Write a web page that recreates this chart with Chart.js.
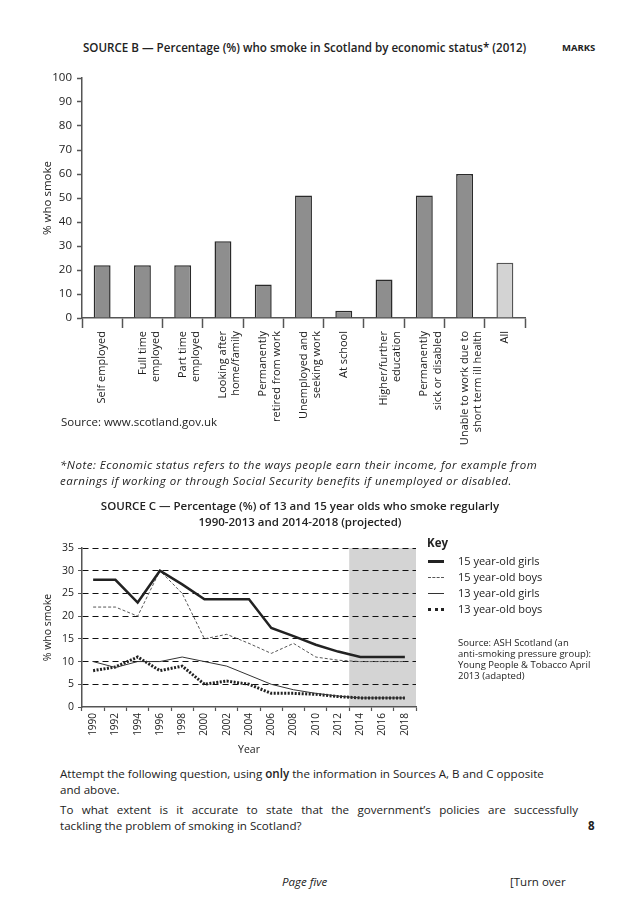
<!DOCTYPE html>
<html>
<head>
<meta charset="utf-8">
<script src="https://cdn.jsdelivr.net/npm/chart.js@4.4.0/dist/chart.umd.min.js"></script>
<style>
  html, body { margin: 0; padding: 0; background: #fff; }
  #page { position: relative; width: 638px; height: 903px; overflow: hidden; font-family: 'Open Sans', sans-serif; color: #222; }
  .t { position: absolute; white-space: nowrap; line-height: 16px; font-size: 11.5px; }
  canvas { position: absolute; }
  .key-row { position: absolute; left: 428px; height: 16px; font-size: 11px; line-height: 16px; }
  .key-row span.s { position: absolute; left: 0; top: 8px; width: 16px; }
  .key-row span.l { position: absolute; left: 30px; top: 0; white-space: nowrap; }
</style>
</head>
<body>
<div id="page">
  <div class="t" style="left:83px; top:40px; font-weight:600; font-size:11.6px;">SOURCE B — Percentage (%) who smoke in Scotland by economic status* (2012)</div>
  <div class="t" style="left:562px; top:40px; font-weight:700; font-size:9.5px;">MARKS</div>

  <canvas id="chartB" width="545" height="420" style="left:0; top:60px;"></canvas>

  <div class="t" style="left:61px; top:414px;">Source: www.scotland.gov.uk</div>
  <div class="t" style="left:60px; top:457px; font-style:italic; letter-spacing:0.5px;">*Note: Economic status refers to the ways people earn their income, for example from<br>earnings if working or through Social Security benefits if unemployed or disabled.</div>

  <div class="t" style="left:0; width:600px; top:498px; text-align:center; font-weight:600;">SOURCE C — Percentage (%) of 13 and 15 year olds who smoke regularly<br>1990-2013 and 2014-2018 (projected)</div>

  <canvas id="chartC" width="430" height="235" style="left:0; top:530px;"></canvas>

  <div class="t" style="left:427px; top:535px; font-weight:700;">Key</div>
  <div id="key"></div>
  <div class="t" style="left:458px; top:637px; font-size:9.5px; line-height:11px;">Source: ASH Scotland (an<br>anti-smoking pressure group):<br>Young People &amp; Tobacco April<br>2013 (adapted)</div>

  <div class="t" style="left:60px; top:766px; font-size:11.6px;">Attempt the following question, using <span style="font-weight:600;">only</span> the information in Sources A, B and C opposite<br>and above.</div>
  <div class="t" style="left:60px; top:802px; width:518px; font-size:11.6px; text-align:justify; text-align-last:justify;">To what extent is it accurate to state that the government’s policies are successfully</div>
  <div class="t" style="left:60px; top:818px; font-size:11.6px;">tackling the problem of smoking in Scotland?</div>
  <div class="t" style="left:588px; top:818px; font-weight:700;">8</div>

  <div class="t" style="left:282px; top:874px; font-style:italic;">Page five</div>
  <div class="t" style="left:510px; top:874px;">[Turn over</div>
</div>

<script>
// Source B: % who smoke by economic status (2012)
const economicStatus = [
  ['Self employed'],
  ['Full time', 'employed'],
  ['Part time', 'employed'],
  ['Looking after', 'home/family'],
  ['Permanently', 'retired from work'],
  ['Unemployed and', 'seeking work'],
  ['At school'],
  ['Higher/further', 'education'],
  ['Permanently', 'sick or disabled'],
  ['Unable to work due to', 'short term ill health'],
  ['All']
];
const smokePct2012 = [22, 22, 22, 32, 14, 51, 3, 16, 51, 60, 23];

// Source C: 13 and 15 year olds who smoke regularly
const years = ['1990', '1992', '1994', '1996', '1998', '2000', '2002', '2004',
  '2006', '2008', '2010', '2012', '2014', '2016', '2018'];
const projectedFrom = '2014';
const girls15 = [28, 28, 23, 30, 27, 23.7, 23.7, 23.7, 17.4, 15.6, 13.7, 12.2, 11, 11, 11];
const boys15 = [22, 22, 20, 30, 25, 15, 16, 14, 11.8, 14, 11, 10.3, 10, 10, 10];
const girls13 = [10, 8.7, 10, 10, 11, 10, 9, 7, 5, 3.8, 3, 2.4, 2, 2, 2];
const boys13 = [8, 8.8, 11, 8, 9, 5, 5.7, 5, 3, 3, 2.8, 2.3, 2, 2, 2];

Chart.defaults.font.family = "'Open Sans', sans-serif";
Chart.defaults.color = '#222';
Chart.defaults.animation = false;

const axisGrey = '#555';

// ---- bar chart (Source B)
new Chart(document.getElementById('chartB'), {
  type: 'bar',
  data: {
    labels: economicStatus,
    datasets: [{
      data: smokePct2012,
      backgroundColor: smokePct2012.map((v, i) => i === smokePct2012.length - 1 ? '#d3d3d3' : '#8e8e8e'),
      borderColor: smokePct2012.map((v, i) => i === smokePct2012.length - 1 ? '#555' : '#2a2a2a'),
      borderWidth: 1.5,
      borderSkipped: 'bottom',
      categoryPercentage: 1,
      barPercentage: 0.42
    }]
  },
  options: {
    responsive: false,
    layout: { padding: { top: 18, right: 20, left: 0, bottom: 35 } },
    plugins: { legend: { display: false }, tooltip: { enabled: false } },
    scales: {
      x: {
        grid: { offset: true, drawOnChartArea: false, drawTicks: true, tickLength: 10, color: axisGrey, tickWidth: 1.5 },
        border: { color: axisGrey, width: 1.5 },
        ticks: { maxRotation: 90, minRotation: 90, autoSkip: false, padding: 3, font: { size: 11 } },
        afterFit(scale) { scale.height = 127; }
      },
      y: {
        min: 0,
        max: 100,
        ticks: { stepSize: 10, padding: 5, font: { size: 11.5 } },
        grid: { drawOnChartArea: false, drawTicks: true, tickLength: 5, color: axisGrey, tickWidth: 1.5 },
        border: { color: axisGrey, width: 1.5 },
        title: { display: true, text: '% who smoke', font: { size: 11.5 }, padding: { top: 41, bottom: 0 } },
        afterFit(scale) { scale.width = 82; }
      }
    }
  }
});

// shade the projected years
const projectionShade = {
  id: 'projectionShade',
  beforeDraw(chart) {
    const { ctx, chartArea, scales } = chart;
    const i = years.indexOf(projectedFrom);
    const x0 = (scales.x.getPixelForValue(i - 1) + scales.x.getPixelForValue(i)) / 2;
    ctx.save();
    ctx.fillStyle = '#d4d4d4';
    ctx.fillRect(x0, chartArea.top, chartArea.right - x0, chartArea.bottom - chartArea.top);
    ctx.restore();
  }
};

const lineStyles = [
  { label: '15 year-old girls', data: girls15, borderColor: '#222', borderWidth: 2.5, borderDash: [] },
  { label: '15 year-old boys', data: boys15, borderColor: '#555', borderWidth: 1, borderDash: [3, 2] },
  { label: '13 year-old girls', data: girls13, borderColor: '#333', borderWidth: 1, borderDash: [] },
  { label: '13 year-old boys', data: boys13, borderColor: '#222', borderWidth: 3, borderDash: [2, 1.5] }
];

// ---- line chart (Source C)
new Chart(document.getElementById('chartC'), {
  type: 'line',
  data: {
    labels: years,
    datasets: lineStyles.map(s => Object.assign({ pointRadius: 0, tension: 0, fill: false, borderCapStyle: 'butt' }, s))
  },
  options: {
    responsive: false,
    layout: { padding: { top: 18, right: 14, left: 0, bottom: 0 } },
    plugins: { legend: { display: false }, tooltip: { enabled: false } },
    scales: {
      x: {
        offset: true,
        grid: { offset: true, drawOnChartArea: false, drawTicks: true, tickLength: 4, color: axisGrey, tickWidth: 1.2 },
        border: { color: axisGrey, width: 1.5 },
        ticks: { maxRotation: 90, minRotation: 90, autoSkip: false, padding: 2, font: { size: 10 } },
        title: { display: true, text: 'Year', font: { size: 10.5 }, padding: { top: 0, bottom: 9 } },
        afterFit(scale) { scale.height = 58; }
      },
      y: {
        min: 0,
        max: 35,
        ticks: { stepSize: 5, padding: 4, font: { size: 10.5 } },
        grid: { drawOnChartArea: true, drawTicks: true, tickLength: 4, color: ctx => ctx.tick && ctx.tick.value === 0 ? 'rgba(0,0,0,0)' : '#111', lineWidth: 1, tickColor: axisGrey, tickBorderDash: [] },
        border: { color: axisGrey, width: 1.5, dash: [6, 4] },
        title: { display: true, text: '% who smoke', font: { size: 10.5 }, padding: { top: 42, bottom: 0 } },
        afterFit(scale) { scale.width = 82; }
      }
    }
  },
  plugins: [projectionShade]
});

// key, built from the same line styles
const keyEl = document.getElementById('key');
const keyTops = [553, 569, 585, 601];
lineStyles.forEach((s, i) => {
  const row = document.createElement('div');
  row.className = 'key-row';
  row.style.top = keyTops[i] + 'px';
  const sw = document.createElement('span');
  sw.className = 's';
  const bw = s.borderWidth >= 2 ? 3 : 1;
  const style = s.borderDash.length ? (bw > 1 ? 'dotted' : 'dashed') : 'solid';
  sw.style.borderTop = bw + 'px ' + style + ' ' + s.borderColor;
  sw.style.marginTop = (-bw / 2) + 'px';
  const lb = document.createElement('span');
  lb.className = 'l';
  lb.textContent = s.label;
  row.appendChild(sw);
  row.appendChild(lb);
  keyEl.appendChild(row);
});
</script>
</body>
</html>
